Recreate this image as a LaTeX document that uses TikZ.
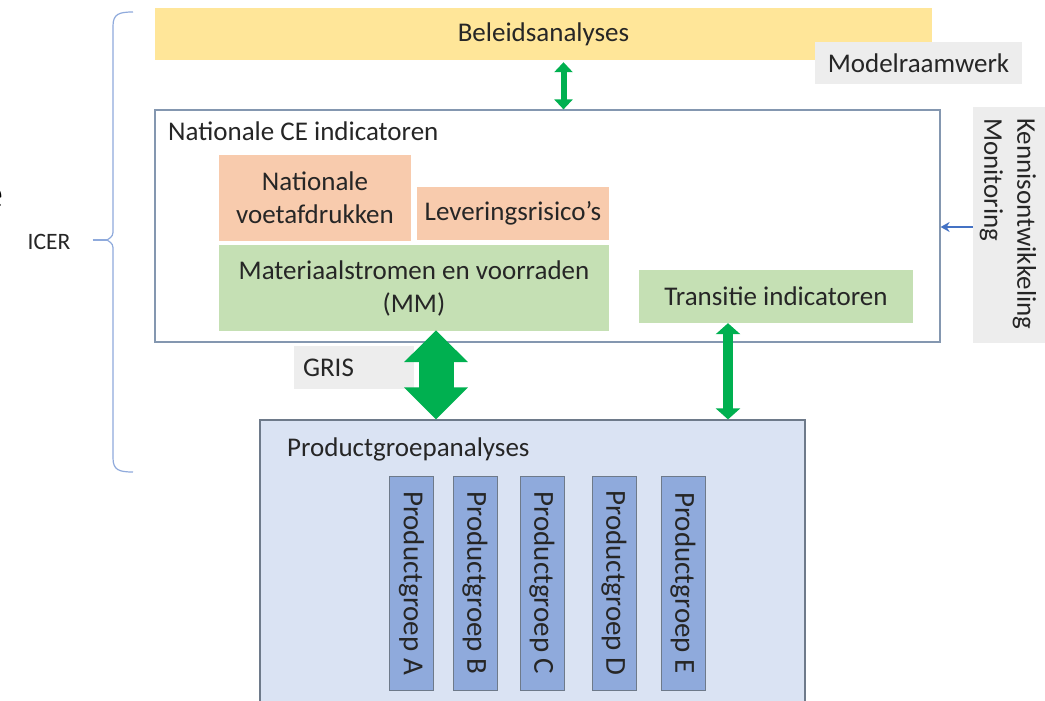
\documentclass[tikz,border=0pt]{standalone}
\usepackage{fontspec}
\setmainfont{Carlito}
\usetikzlibrary{arrows.meta,calc}
\definecolor{ygold}{HTML}{FFE699}
\definecolor{lgray}{HTML}{EDEDED}
\definecolor{salmon}{HTML}{F8CBAD}
\definecolor{lgreen}{HTML}{C5E0B4}
\definecolor{lblue}{HTML}{DAE3F3}
\definecolor{mblue}{HTML}{8FAADC}
\definecolor{bborder}{HTML}{8497B0}
\definecolor{gborder}{HTML}{6E7A8A}
\definecolor{garrowc}{HTML}{00B050}
\definecolor{blarrow}{HTML}{4472C4}
\definecolor{txt}{HTML}{262626}
\begin{document}
\begin{tikzpicture}[x=1pt,y=-1pt,
  every node/.style={font=\fontsize{27}{33}\selectfont, text=txt, inner sep=0pt},
  fillbox/.style={draw=none, align=center},
  gbig/.style={draw=garrowc, line width=35pt, {Triangle[width=62pt,length=32pt]}-{Triangle[width=62pt,length=32pt]}},
  gmid/.style={draw=garrowc, line width=10pt, {Triangle[width=24pt,length=11pt]}-{Triangle[width=24pt,length=11pt]}},
  gsmall/.style={draw=garrowc, line width=6pt, {Triangle[width=18pt,length=10pt]}-{Triangle[width=18pt,length=10pt]}},
  pgbox/.style={draw=gborder, line width=0.9pt, fill=mblue, minimum width=44pt, minimum height=214pt},
  pgtext/.style={rotate=-90, font=\fontsize{29}{33}\selectfont}
]
\useasboundingbox (0,0) rectangle (1045,701);
\fill[white] (0,0) rectangle (1045,701);

% partial letter at left edge
\node[font=\fontsize{44}{50}\selectfont, text=black] (edge) at (-8,198) {e};

% ICER and brace
\node[font=\fontsize{23.5}{26}\selectfont] (icer) at (49,242) {ICER};
\draw[mblue, line width=1.2pt] (133,12) .. controls (119,12) and (113,14) .. (113,26)
  -- (113,228) .. controls (113,236) .. (107,240) .. controls (113,244) .. (113,252)
  -- (113,458) .. controls (113,470) and (119,472) .. (133,472);
\coordinate (bracetip) at (107,240);
\draw[mblue, line width=1.2pt] ($(icer.east)+(22,-2)$) -- (bracetip);

% top
\node[fillbox, fill=ygold, minimum width=777pt, minimum height=52pt] (beleid) at (543.5,34) {Beleidsanalyses};
\node[fillbox, fill=lgray, minimum width=207pt, minimum height=42pt] (model) at (918.5,63) {Modelraamwerk};

% national box
\node[draw=bborder, line width=1.2pt, fill=white, minimum width=785pt, minimum height=232pt] (nat) at (547.5,226) {};
\node[anchor=west] (natlbl) at (168,131) {Nationale CE indicatoren};
\node[fillbox, fill=salmon, minimum width=192pt, minimum height=86pt] (voet) at (315,198) {Nationale\\voetafdrukken};
\node[fillbox, fill=salmon, minimum width=192pt, minimum height=53pt] (lev) at (513,213.5) {Leveringsrisico’s};
\node[fillbox, fill=lgreen, minimum width=390pt, minimum height=86pt] (mm) at (414,288) {Materiaalstromen en voorraden\\(MM)};
\node[fillbox, fill=lgreen, minimum width=274pt, minimum height=53pt] (trans) at (776,296.5) {Transitie indicatoren};

% kennis box
\node[fill=lgray, minimum width=72pt, minimum height=236pt] (kennis) at (1009,225) {};
\node[rotate=-90, anchor=west, align=left] (kennistxt) at (1008,118) {Kennisontwikkeling\\Monitoring};
\coordinate (kstart) at ($(kennis.west)+(0,2)$);
\coordinate (kend) at (kstart -| nat.east);
\draw[blarrow, line width=2.2pt, -{Stealth[length=9pt,width=10pt]}] (kstart) -- (kend);

% GRIS
\node[fill=lgray, minimum width=120pt, minimum height=43pt, text width=102pt, align=left] (gris) at (354,367.5) {GRIS};

% product group box
\node[draw=gborder, line width=1.2pt, fill=lblue, minimum width=545pt, minimum height=300pt] (prod) at (532.5,570) {};
\node[anchor=west] (prodlbl) at (287,449) {Productgroepanalyses};
\node[pgbox] (pa) at (411.5,583) {};
\node[pgtext] at (pa) {Productgroep A};
\node[pgbox] (pb) at (475,583) {};
\node[pgtext] at (pb) {Productgroep B};
\node[pgbox] (pc) at (542,583) {};
\node[pgtext] at (pc) {Productgroep C};
\node[pgbox] (pd) at (614,583) {};
\node[pgtext] at (pd) {Productgroep D};
\node[pgbox] (pe) at (683,583) {};
\node[pgtext] at (pe) {Productgroep E};

% green arrows
\coordinate (g1) at ($(beleid.south)+(20,2)$);
\draw[gsmall] (g1) -- (g1 |- nat.north);
\coordinate (g2) at ($(mm.south)+(22,-1)$);
\draw[gbig] (g2) -- (g2 |- prod.north);
\coordinate (g3) at ($(trans.south)+(-48,0)$);
\draw[gmid] (g3) -- (g3 |- prod.north);
\end{tikzpicture}
\end{document}
